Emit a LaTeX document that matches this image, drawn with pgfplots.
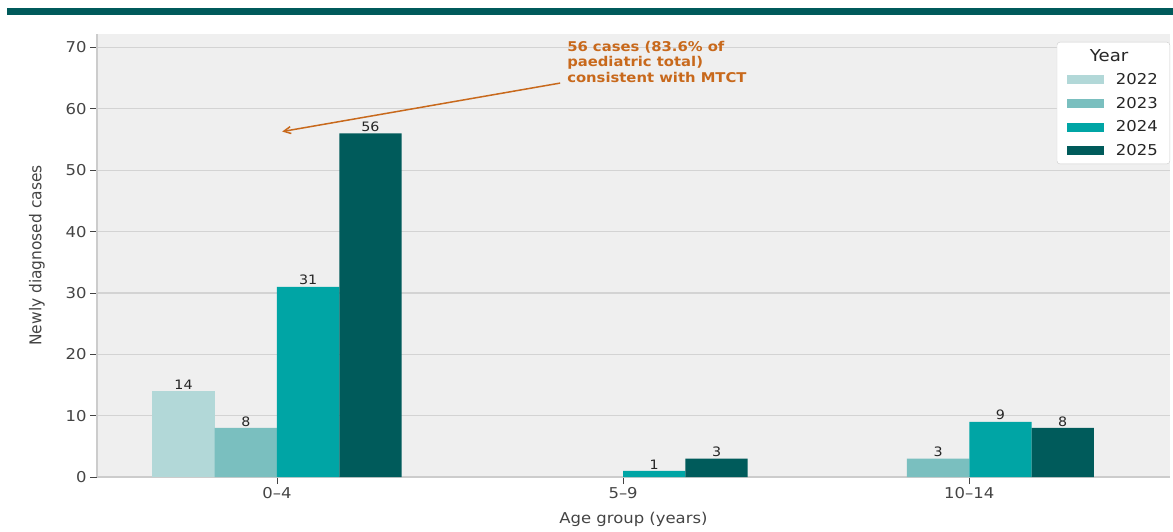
\documentclass[border=0pt]{standalone}
\usepackage{fontspec}
\setmainfont{DejaVu Sans}[FakeStretch=1.1]
\newfontfamily\ylabfont{DejaVu Sans}[FakeStretch=0.95]
\usepackage{pgfplots}
\pgfplotsset{compat=1.18}
\usetikzlibrary{arrows.meta}

\definecolor{c22}{HTML}{B2D8D8}
\definecolor{c23}{HTML}{7ABFBF}
\definecolor{c24}{HTML}{00A5A5}
\definecolor{c25}{HTML}{005B5B}
\definecolor{bg}{HTML}{EFEFEF}
\definecolor{gridc}{HTML}{D3D3D3}
\definecolor{spine}{HTML}{CCCCCC}
\definecolor{txt}{HTML}{444444}
\definecolor{vtxt}{HTML}{262626}
\definecolor{anno}{HTML}{C8691C}
\definecolor{topbar}{HTML}{005A5B}

\pgfplotsset{barleg/.style={legend image code/.code={\fill[##1, sharp corners] (0bp,-4.5bp) rectangle (37bp,4.5bp);}}}

\begin{document}
\begin{tikzpicture}
\begin{axis}[
  scale only axis, width=1073bp, height=443bp,
  xmin=-0.52, xmax=2.58, ymin=0, ymax=72.2,
  axis lines=left,
  axis line style={-, draw=spine, line width=1.2bp},
  axis background/.style={fill=bg},
  ybar, bar width=0.18,
  xtick={0,1,2}, xticklabels={0–4,5–9,10–14},
  ytick={0,10,...,70},
  ymajorgrids, major grid style={draw=gridc, line width=1.2bp},
  tick align=outside, major tick length=7bp,
  tick style={draw=txt, line width=0.8bp},
  tick label style={font=\fontsize{15}{18}\selectfont, text=txt},
  /pgf/number format/assume math mode=true,
  xlabel={Age group (years)},
  ylabel={\ylabfont\fontsize{16.3}{19}\selectfont Newly diagnosed cases},
  xlabel style={at={(rel axis cs:0.5,-0.0948)}, anchor=center, font=\fontsize{15}{18}\selectfont, text=txt},
  ylabel style={at={(rel axis cs:-0.056,0.5)}, anchor=center, text=txt},
  nodes near coords,
  every node near coord/.append style={font=\fontsize{13}{15}\selectfont, text=vtxt, inner sep=1.5bp, anchor=south},
  legend style={at={(rel axis cs:1.0,0.982)}, anchor=north east, draw=spine, fill=white,
    rounded corners=3bp, font=\fontsize{15}{18}\selectfont, text=vtxt,
    row sep=7bp, inner xsep=10bp, inner ysep=5bp,
    /tikz/every odd column/.append style={column sep=10bp}},
  legend cell align=left,
]
\addlegendimage{empty legend}
\addplot[fill=c22, draw=none, bar shift=-0.27, barleg] coordinates {(0,14)};
\addplot[fill=c23, draw=none, bar shift=-0.09, barleg] coordinates {(0,8) (2,3)};
\addplot[fill=c24, draw=none, bar shift=0.09, barleg] coordinates {(0,31) (1,1) (2,9)};
\addplot[fill=c25, draw=none, bar shift=0.27, barleg] coordinates {(0,56) (1,3) (2,8)};
\legend{\hspace*{-26bp}\fontsize{16.5}{18}\selectfont Year, 2022, 2023, 2024, 2025}

\draw[anno, line width=1.5bp, -{Straight Barb[length=7bp,width=7bp]}]
  (axis cs:0.818,64.2) -- (axis cs:0.015,56.3);
\node[anchor=north west, inner sep=0, align=left, text=anno,
  font=\bfseries\fontsize{13.5}{15.5}\selectfont]
  at (axis cs:0.838,71.1) {56 cases (83.6\% of\\paediatric total)\\consistent with MTCT};
\end{axis}
\fill[topbar] ([xshift=-90bp,yshift=18.5bp]current axis.north west)
  rectangle ([xshift=3bp,yshift=26bp]current axis.north east);
\pgfresetboundingbox
\path[use as bounding box] ([xshift=-97bp,yshift=-54bp]current axis.south west)
  rectangle ([xshift=3bp,yshift=34bp]current axis.north east);
\end{tikzpicture}
\end{document}
